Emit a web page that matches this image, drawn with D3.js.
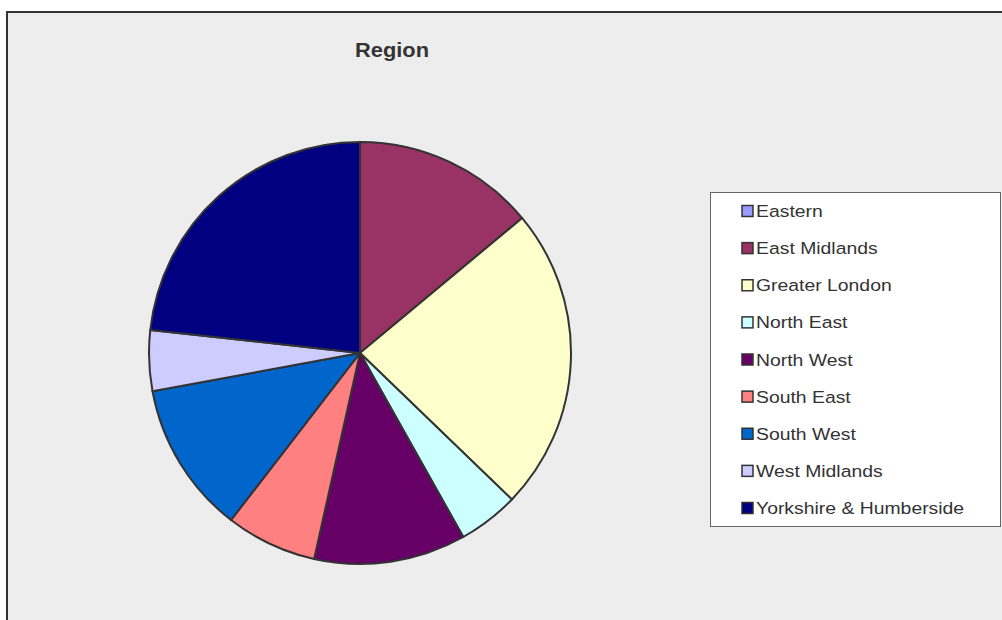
<!DOCTYPE html>
<html>
<head>
<meta charset="utf-8">
<script src="https://cdn.jsdelivr.net/npm/d3@7"></script>
<style>
  html, body { margin: 0; padding: 0; background: #ffffff; }
  svg { display: block; }
</style>
</head>
<body>
<svg id="chart" width="1002" height="620"></svg>
<script>
// Respondent counts by region
const regions = ["Eastern", "East Midlands", "Greater London", "North East", "North West",
                 "South East", "South West", "West Midlands", "Yorkshire & Humberside"];
const counts = [0, 6, 10, 2, 5, 3, 5, 2, 10];
const colors = ["#9999FF", "#993366", "#FFFFCC", "#CCFFFF", "#660066",
                "#FF8080", "#0066CC", "#CCCCFF", "#000080"];
const title = "Region";

const svg = d3.select("#chart");

// chart area frame
svg.append("rect")
  .attr("x", 7).attr("y", 12)
  .attr("width", 1010).attr("height", 620)
  .attr("fill", "#EDEDED")
  .attr("stroke", "#333").attr("stroke-width", 2);

svg.append("g")
  .attr("transform", "translate(392,57) scale(1.04,1)")
  .append("text")
  .attr("text-anchor", "middle")
  .attr("font-family", "Liberation Sans, Arial, sans-serif")
  .attr("font-weight", "bold")
  .attr("font-size", 21)
  .attr("fill", "#333")
  .text(title);

// pie
const cx = 360, cy = 353, radius = 211;
const pie = d3.pie().sort(null).value(d => d.v).startAngle(0).endAngle(2 * Math.PI);
const arc = d3.arc().innerRadius(0).outerRadius(radius);
const data = regions.map((r, i) => ({ name: r, v: counts[i], color: colors[i] }));

const g = svg.append("g").attr("transform", `translate(${cx},${cy})`);
g.selectAll("path")
  .data(pie(data).filter(d => d.data.v > 0))
  .join("path")
  .attr("d", arc)
  .attr("fill", d => d.data.color)
  .attr("stroke", "#333")
  .attr("stroke-width", 2)
  .attr("stroke-linejoin", "round");

// legend
const lx = 710, ly = 192, lw = 290, lh = 334;
const leg = svg.append("g");
leg.append("rect")
  .attr("x", lx + 0.5).attr("y", ly + 0.5)
  .attr("width", lw).attr("height", lh)
  .attr("fill", "#fff")
  .attr("stroke", "#666").attr("stroke-width", 1);

const rowY = d3.scalePoint().domain(regions).range([217, 514]);
const items = leg.selectAll("g.item").data(data).join("g").attr("class", "item");
items.append("rect")
  .attr("x", 742).attr("y", d => rowY(d.name) - 11.5)
  .attr("width", 11).attr("height", 11)
  .attr("fill", d => d.color)
  .attr("stroke", "#333").attr("stroke-width", 1.5);
items.append("g")
  .attr("transform", d => `translate(756,${rowY(d.name)}) scale(1.14,1)`)
  .append("text")
  .attr("font-family", "Liberation Sans, Arial, sans-serif")
  .attr("font-size", 17)
  .attr("fill", "#333")
  .text(d => d.name);
</script>
</body>
</html>
